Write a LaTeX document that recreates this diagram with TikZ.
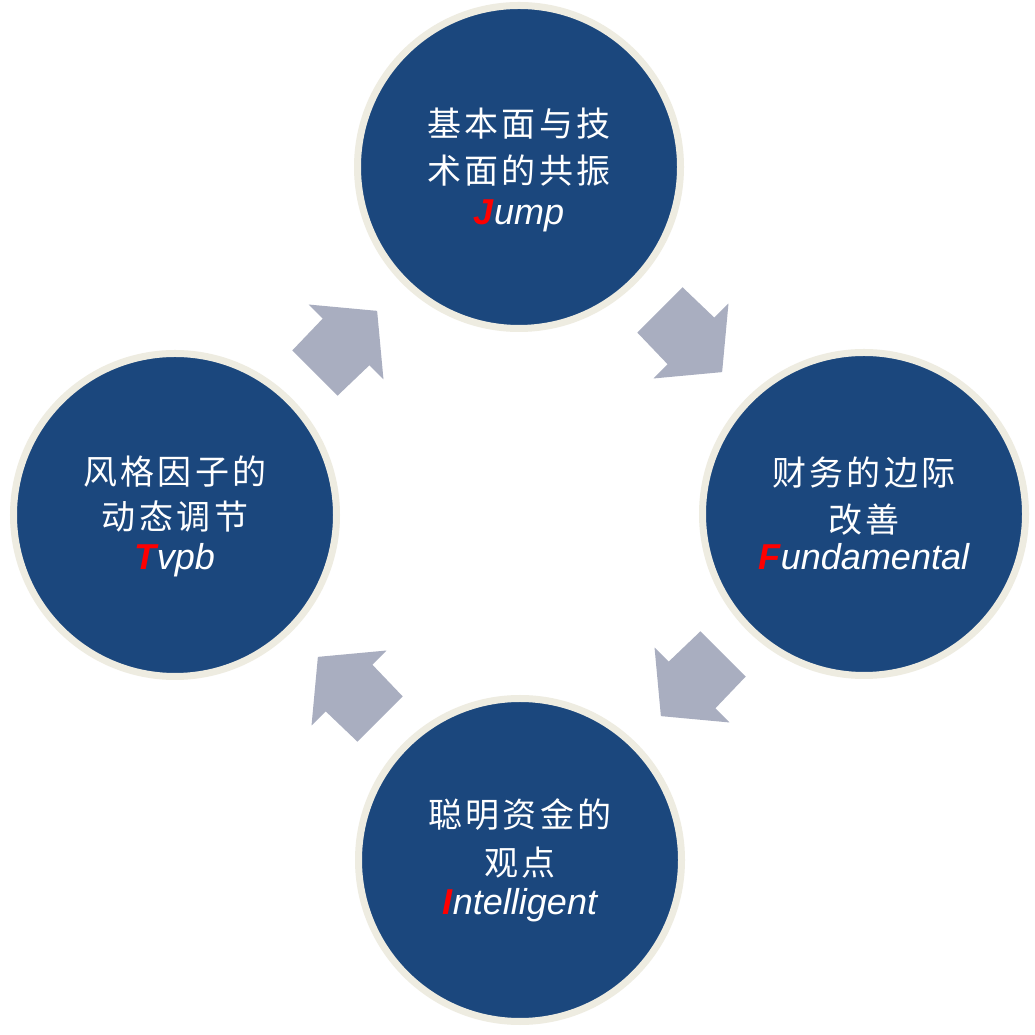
\documentclass[tikz,border=0pt]{standalone}
\usepackage{fontspec}
\setmainfont{Liberation Sans}
\newfontfamily\cjkfont[LetterSpace=10]{Noto Sans CJK SC}
\usetikzlibrary{calc}
\definecolor{circblue}{RGB}{27,71,125}
\definecolor{ringcream}{RGB}{238,236,225}
\definecolor{arrowgray}{RGB}{169,174,192}
\definecolor{initred}{RGB}{255,0,0}
\newcommand{\initial}[1]{\textcolor{initred}{\bfseries #1}}
\tikzset{
  disc/.style={circle, fill=circblue, draw=ringcream, line width=7pt, minimum size=323pt, inner sep=0pt},
  cjk/.style={text=white, anchor=base, font=\fontsize{34}{40}\selectfont\cjkfont, inner sep=0pt},
  latin/.style={text=white, anchor=base, font=\fontsize{36}{42}\selectfont\itshape, inner sep=0pt},
  pics/blockarr/.style={code={
    \fill[arrowgray] (44,0) -- (0,53) -- (0,33) -- (-44,32) -- (-44,-32) -- (0,-33) -- (0,-53) -- cycle;
  }}
}
\begin{document}
\begin{tikzpicture}[x=1pt,y=1pt]
\useasboundingbox[fill=white] (0,0) rectangle (1035,1035);
% circles
\node[disc] (jump) at (519,868) {};
\node[disc] (fund) at (864,521) {};
\node[disc] (intel) at (520,175) {};
\node[disc] (tvpb) at (175,520) {};
% block arrows
\pic[rotate=45] (a1) at (346,693) {blockarr};
\pic[rotate=-45] (a2) at (691,694) {blockarr};
\pic[rotate=-135] (a3) at (692,350) {blockarr};
\pic[rotate=135] (a4) at (349,347) {blockarr};
% texts
\node[cjk] (jump-l1) at ($(jump)+(0,30)$) {基本面与技};
\node[cjk] (jump-l2) at ($(jump)+(0,-17)$) {术面的共振};
\node[latin] (jump-l3) at ($(jump)+(0,-58)$) {\initial{J}ump};
\node[cjk] (fund-l1) at ($(fund)+(0,28)$) {财务的边际};
\node[cjk] (fund-l2) at ($(fund)+(0,-19)$) {改善};
\node[latin] (fund-l3) at ($(fund)+(0,-56)$) {\initial{F}undamental};
\node[cjk] (intel-l1) at ($(intel)+(0,32)$) {聪明资金的};
\node[cjk] (intel-l2) at ($(intel)+(0,-16)$) {观点};
\node[latin] (intel-l3) at ($(intel)+(0,-55)$) {\initial{I}ntelligent};
\node[cjk] (tvpb-l1) at ($(tvpb)+(0,30)$) {风格因子的};
\node[cjk] (tvpb-l2) at ($(tvpb)+(0,-15)$) {动态调节};
\node[latin] (tvpb-l3) at ($(tvpb)+(0,-55)$) {\initial{T}vpb};
\end{tikzpicture}
\end{document}
